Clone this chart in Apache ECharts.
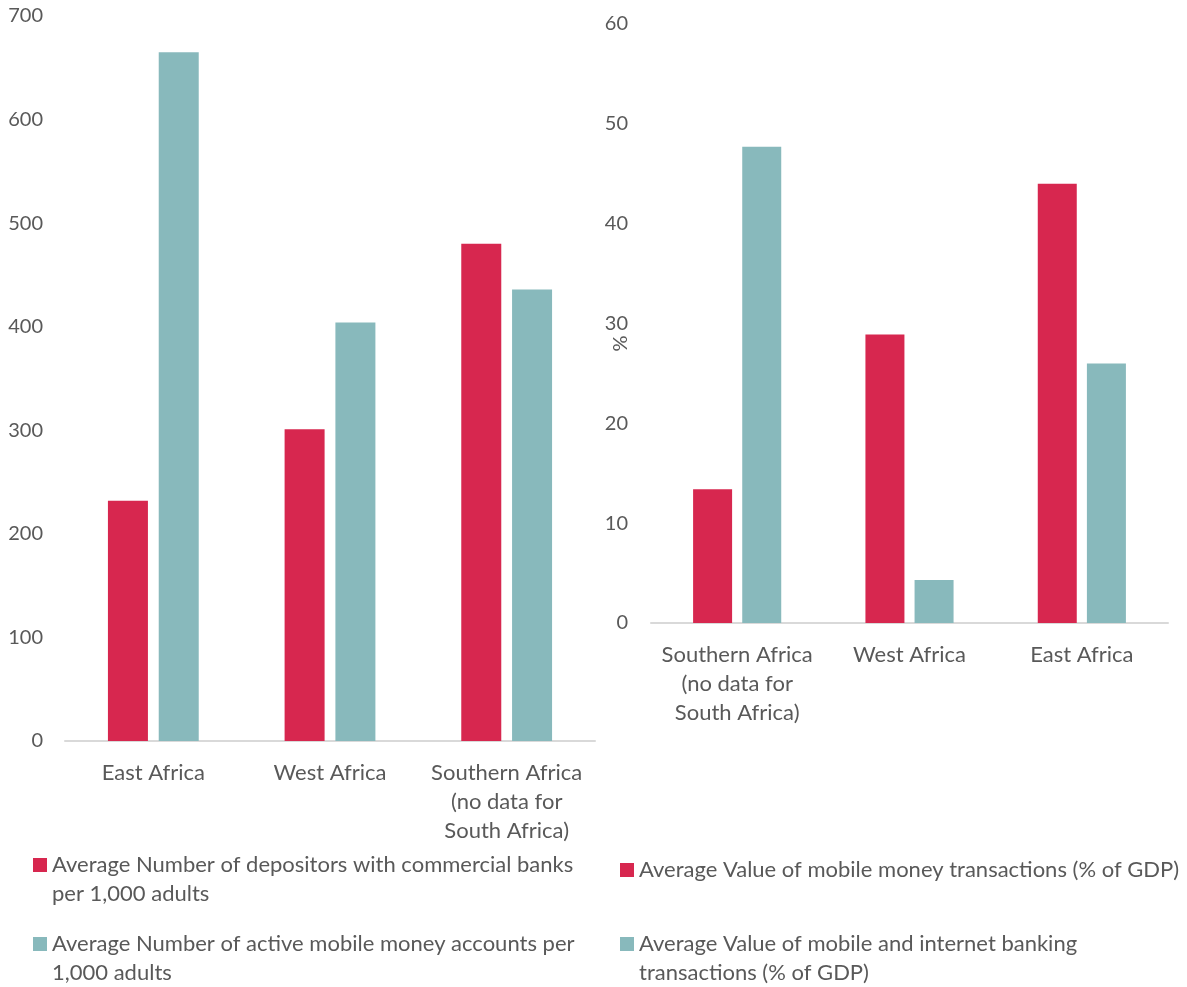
<!DOCTYPE html>
<html><head><meta charset="utf-8">
<script src="https://cdn.jsdelivr.net/npm/echarts@6/dist/echarts.min.js"></script>
<style>html,body{margin:0;padding:0;background:#fff}#c{width:1187px;height:987px}</style>
</head><body><div id="c"></div>
<script>
// ---- data ----
const leftCategories = ['East Africa', 'West Africa', 'Southern Africa (no data for South Africa)'];
const leftDepositors = [232, 301, 480];
const leftMobileAccounts = [665, 404, 436];
const leftNames = ['Average Number of depositors with commercial banks per 1,000 adults',
                   'Average Number of active mobile money accounts per 1,000 adults'];

const rightCategories = ['Southern Africa (no data for South Africa)', 'West Africa', 'East Africa'];
const rightMobileMoney = [13.4, 28.9, 44.0];
const rightInternetBanking = [47.7, 4.3, 26.0];
const rightNames = ['Average Value of mobile money transactions (% of GDP)',
                    'Average Value of mobile and internet banking transactions (% of GDP)'];

const RED = '#D7274F', TEAL = '#88B9BC', TXT = '#595959', FONT = 'Lato';
const FS = 22, NFS = 20, LH = 29;

function wrap(s, n) {
  const words = s.split(' '); const lines = []; let cur = '';
  words.forEach(w => {
    if (!cur) cur = w;
    else if ((cur + ' ' + w).length <= n) cur += ' ' + w;
    else { lines.push(cur); cur = w; }
  });
  if (cur) lines.push(cur);
  return lines;
}
function legendFor(name, left, iconCenterY) {
  const n = wrap(name, 53).length;
  const totalLines = 2 * n - 1;           // blank lines above so the first line sits at the icon
  const boxH = LH * totalLines;
  return {
    show: true, orient: 'vertical', left: left, top: iconCenterY - boxH / 2,
    padding: 0, itemWidth: 14, itemHeight: 14, icon: 'rect',
    data: [name],
    formatter: nm => { const ls = wrap(nm, 53); return '\n'.repeat(ls.length - 1) + ls.join('\n'); },
    textStyle: { color: TXT, fontFamily: FONT, fontSize: FS, lineHeight: LH }
  };
}
const catLabel = { color: TXT, fontFamily: FONT, fontSize: FS, margin: 17, lineHeight: LH, interval: 0,
                   formatter: v => wrap(v, 15).join('\n') };
const numLabel = { color: TXT, fontFamily: FONT, fontSize: NFS };
const chart = echarts.init(document.getElementById('c'));
chart.setOption({
  animation: false,
  backgroundColor: '#fff',
  grid: [
    { left: 65, right: 592, top: 16, bottom: 246 },
    { left: 651, right: 19, top: 24, bottom: 364 }
  ],
  xAxis: [
    { type: 'category', gridIndex: 0, data: leftCategories,
      axisLine: { lineStyle: { color: '#d9d9d9', width: 2 } }, axisTick: { show: false },
      axisLabel: catLabel },
    { type: 'category', gridIndex: 1, data: rightCategories,
      axisLine: { lineStyle: { color: '#d9d9d9', width: 2 } }, axisTick: { show: false },
      axisLabel: catLabel }
  ],
  yAxis: [
    { type: 'value', gridIndex: 0, min: 0, max: 700, interval: 100,
      splitLine: { show: false }, axisLine: { show: false }, axisTick: { show: false },
      axisLabel: Object.assign({}, numLabel, { margin: 22 }) },
    { type: 'value', gridIndex: 1, min: 0, max: 60, interval: 10,
      name: '%', nameLocation: 'middle', nameGap: 20, nameRotate: 90, nameMoveOverlap: false,
      nameTextStyle: { color: TXT, fontFamily: FONT, fontSize: NFS, padding: [0, 0, 0, -40] },
      splitLine: { show: false }, axisLine: { show: false }, axisTick: { show: false },
      axisLabel: Object.assign({}, numLabel, { margin: 23 }) }
  ],
  legend: [
    legendFor(leftNames[0], 33, 865),
    legendFor(leftNames[1], 33, 944),
    legendFor(rightNames[0], 620, 870),
    legendFor(rightNames[1], 620, 944)
  ],
  series: [
    { name: leftNames[0], type: 'bar', xAxisIndex: 0, yAxisIndex: 0, data: leftDepositors,
      itemStyle: { color: RED }, barWidth: 40, barGap: '27%' },
    { name: leftNames[1], type: 'bar', xAxisIndex: 0, yAxisIndex: 0, data: leftMobileAccounts,
      itemStyle: { color: TEAL }, barWidth: 40, barGap: '27%' },
    { name: rightNames[0], type: 'bar', xAxisIndex: 1, yAxisIndex: 1, data: rightMobileMoney,
      itemStyle: { color: RED }, barWidth: 39, barGap: '26%' },
    { name: rightNames[1], type: 'bar', xAxisIndex: 1, yAxisIndex: 1, data: rightInternetBanking,
      itemStyle: { color: TEAL }, barWidth: 39, barGap: '26%' }
  ]
});
</script></body></html>
